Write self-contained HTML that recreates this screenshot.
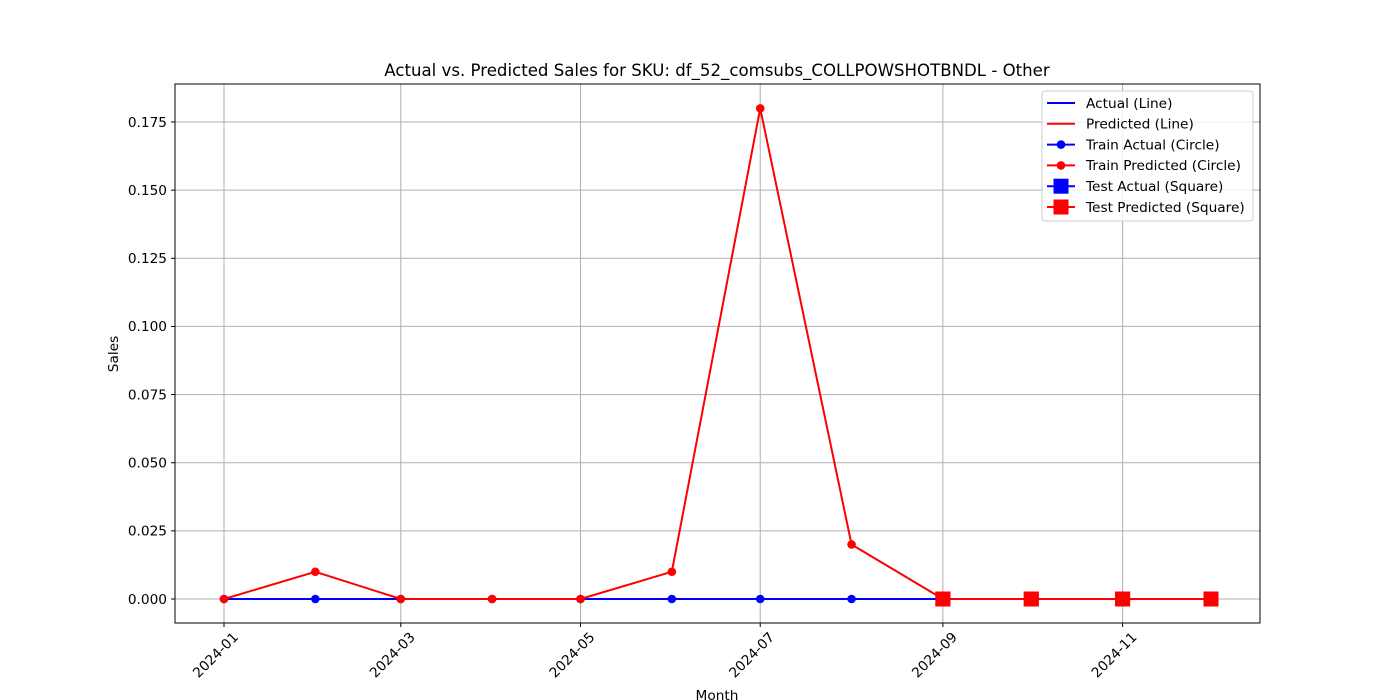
<!DOCTYPE html>
<html><head><meta charset="utf-8"><style>
html,body{margin:0;padding:0;background:#fff;}
svg{display:block;font-family:"DejaVu Sans","Liberation Sans",sans-serif;}
</style></head><body>
<svg id="chart" width="1400" height="700">
<text x="717" y="76" text-anchor="middle" font-size="16.6">Actual vs. Predicted Sales for SKU: df_52_comsubs_COLLPOWSHOTBNDL - Other</text>
<g id="grid"></g>
<g id="axes"></g>
<g id="series"></g>
<rect x="175" y="84" width="1085" height="539" fill="none" stroke="#000" stroke-width="1"/>
<text x="717" y="700" text-anchor="middle" font-size="13.7">Month</text>
<text transform="translate(118,354) rotate(-90)" text-anchor="middle" font-size="13.7">Sales</text>
<g id="legend"></g>
</svg>
<script>
const months = ["2024-01","2024-02","2024-03","2024-04","2024-05","2024-06","2024-07","2024-08","2024-09","2024-10","2024-11","2024-12"];
const actual = [0,0,0,0,0,0,0,0,0,0,0,0];
const predicted = [0,0.01,0,0,0,0.01,0.18,0.02,0,0,0,0];
const trainCount = 8;
const yTicks = [0,0.025,0.05,0.075,0.1,0.125,0.15,0.175];
const yTickLabels = ["0.000","0.025","0.050","0.075","0.100","0.125","0.150","0.175"];
const xTickLabels = ["2024-01","2024-03","2024-05","2024-07","2024-09","2024-11"];

const NS="http://www.w3.org/2000/svg";
function mk(tag,attrs,parent){const e=document.createElementNS(NS,tag);for(const k in attrs)e.setAttribute(k,attrs[k]);parent.appendChild(e);return e;}
function dayOf(m){const [y,mo]=m.split("-").map(Number);return (Date.UTC(y,mo-1,1)-Date.UTC(2024,0,1))/86400000;}
function xs(m){return 224+dayOf(m)*(1211-224)/335;}
function ys(v){return 599-v*(599-122)/0.175;}
const grid=document.getElementById("grid"),axes=document.getElementById("axes"),ser=document.getElementById("series"),leg=document.getElementById("legend");

yTicks.forEach((v,i)=>{const y=ys(v);
 const g=mk("line",{x1:175,x2:1260,y1:y,y2:y,stroke:"#b0b0b0","stroke-width":1},grid);
 
 
 mk("line",{x1:171,x2:175,y1:y,y2:y,stroke:"#000"},axes);
 const t=mk("text",{x:167,y:y+4.8,"text-anchor":"end","font-size":13.7},axes);t.textContent=yTickLabels[i];
 
 
});
xTickLabels.forEach(m=>{const x=xs(m);
 const g=mk("line",{x1:x,x2:x,y1:84,y2:623,stroke:"#b0b0b0","stroke-width":1},grid);
 
 
 mk("line",{x1:x,x2:x,y1:623,y2:627,stroke:"#000"},axes);
 const t=mk("text",{transform:`translate(${x+15},${638}) rotate(-45)`,"text-anchor":"end","font-size":13.7},axes);t.textContent=m;
 
 
});

function line(vals,color,name){
 const p=mk("polyline",{points:vals.map((v,i)=>xs(months[i])+","+ys(v)).join(" "),fill:"none",stroke:color,"stroke-width":2},ser);
 
 
}
function markers(vals,color,from,to,shape,name){
 for(let i=from;i<to;i++){const x=xs(months[i]),y=ys(vals[i]);let e;
  if(shape==="c")e=mk("circle",{cx:x,cy:y,r:4.3,fill:color},ser);
  else e=mk("rect",{x:x-7.5,y:y-7.5,width:15,height:15,fill:color},ser);
  
  
 }
}
line(actual,"blue","actual-line");
line(predicted,"red","predicted-line");
markers(actual,"blue",0,trainCount,"c","train-actual-point");
markers(predicted,"red",0,trainCount,"c","train-predicted-point");
markers(actual,"blue",trainCount,months.length,"s","test-actual-point");
markers(predicted,"red",trainCount,months.length,"s","test-predicted-point");

mk("rect",{x:1042,y:91,width:211,height:130,rx:3,fill:"#fff","fill-opacity":0.8,stroke:"#ccc"},leg);
const entries=[["Actual (Line)","blue",""],["Predicted (Line)","red",""],["Train Actual (Circle)","blue","c"],["Train Predicted (Circle)","red","c"],["Test Actual (Square)","blue","s"],["Test Predicted (Square)","red","s"]];
entries.forEach((e,i)=>{const y=103+i*20.8;
 const g=mk("g",{},leg);
 
 
 mk("line",{x1:1047,x2:1075,y1:y,y2:y,stroke:e[1],"stroke-width":2},g);
 if(e[2]==="c")mk("circle",{cx:1061,cy:y,r:4.3,fill:e[1]},g);
 if(e[2]==="s")mk("rect",{x:1053.5,y:y-7.5,width:15,height:15,fill:e[1]},g);
 const t=mk("text",{x:1086,y:y+4.8,"font-size":13.7},g);t.textContent=e[0];
});
</script>
</body></html>
